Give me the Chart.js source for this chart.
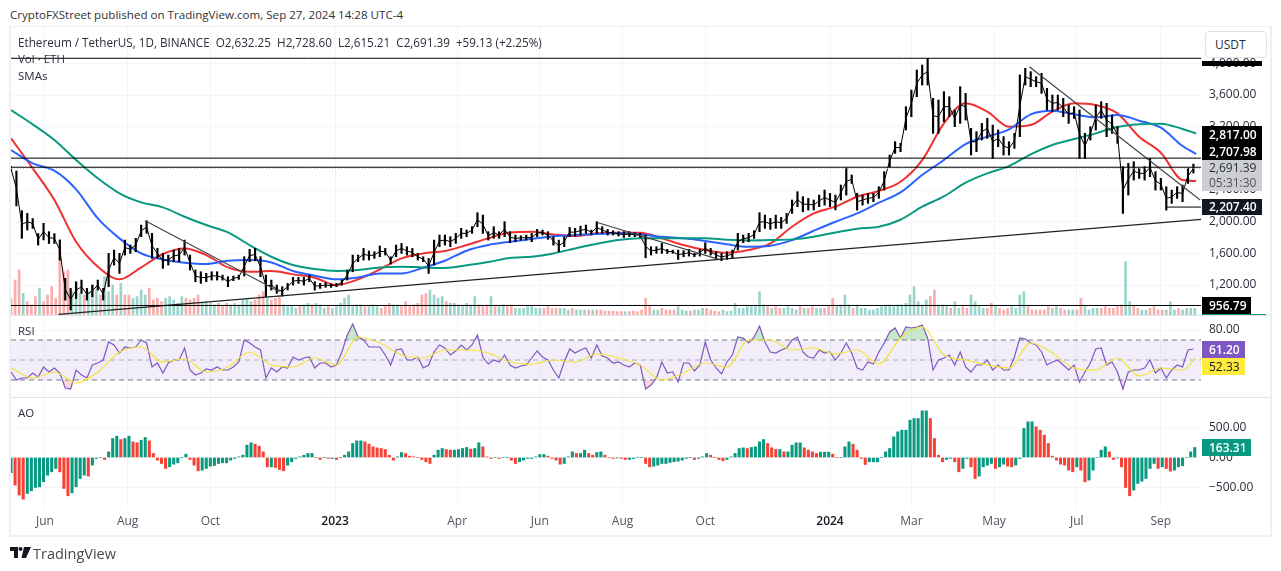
<!DOCTYPE html>
<html>
<head>
<meta charset="utf-8">
<script src="https://cdn.jsdelivr.net/npm/chart.js@4/dist/chart.umd.min.js"></script>
<style>
  html, body { margin: 0; padding: 0; background: #fff; }
  body { width: 1281px; height: 571px; overflow: hidden; position: relative; font-family: "Open Sans", sans-serif; color: #131722; }
  canvas { position: absolute; left: 11px; }
  .txt { position: absolute; white-space: pre; font-size: 11.5px; line-height: 14px; color: #2a2e39; }
  .tag { position: absolute; left: 1202px; height: 17px; line-height: 17px; font-size: 12px; font-weight: 600; color: #fff; padding-left: 7px; box-sizing: border-box; }
  .frame { position: absolute; background: #eef0f5; }
  .sep { position: absolute; left: 11px; width: 1259px; height: 1px; background: #e0e3eb; }
</style>
</head>
<body>
<div class="txt" style="left:10px;top:8px;font-size:11.6px;color:#333">CryptoFXStreet published on TradingView.com, Sep 27, 2024 14:28 UTC-4</div>

<canvas id="mainPane" width="1259" height="288" style="top:27px;width:1259px;height:288px"></canvas>
<canvas id="rsiPane" width="1259" height="81" style="top:316px;width:1259px;height:81px"></canvas>
<canvas id="aoPane" width="1259" height="138" style="top:398px;width:1259px;height:138px"></canvas>

<div class="frame" style="left:9px;top:26px;width:1263px;height:1px"></div>
<div class="frame" style="left:9px;top:26px;width:2px;height:511px"></div>
<div class="frame" style="left:1270px;top:26px;width:2px;height:511px"></div>
<div class="frame" style="left:9px;top:535px;width:1263px;height:2px"></div>
<div class="sep" style="top:315px"></div>
<div class="sep" style="top:397px"></div>
<div style="position:absolute;left:1202px;top:314px;width:64px;height:1px;background:#089981"></div>

<div class="txt" style="left:18px;top:35px;font-size:11.7px">Ethereum / TetherUS, 1D, BINANCE  O2,632.25  H2,728.60  L2,615.21  C2,691.39  +59.13 (+2.25%)</div>
<div class="txt" style="left:18px;top:52px">Vol · ETH</div>
<div class="txt" style="left:18px;top:69px">SMAs</div>
<div class="txt" style="left:18px;top:324px">RSI</div>
<div class="txt" style="left:18px;top:406px">AO</div>

<div style="position:absolute;left:1205px;top:31px;width:60px;height:25px;border:1px solid #e0e3eb;border-radius:4px;background:#fff;font-size:12px;line-height:25px;text-indent:9px;color:#2a2e39">USDT</div>

<div style="position:absolute;left:1202px;top:61px;width:60px;height:5px;background:#000"></div>
<div class="tag" style="top:126px;height:34px;width:60px;background:#000;line-height:17px">2,817.00<br>2,707.98</div>
<div style="position:absolute;left:1202px;top:160px;width:60px;height:31px;background:#ccced3"></div>
<div class="tag" style="color:#2a2e39;font-weight:400;top:159px">2,691.39</div>
<div class="tag" style="top:174px;color:#50535e;font-weight:400">05:31:30</div>
<div class="tag" style="top:199px;height:16px;line-height:16px;width:60px;background:#131722">2,207.40</div>
<div class="tag" style="top:297px;width:49px;background:#000">956.79</div>
<div class="tag" style="top:341px;width:43px;background:#7e57c2">61.20</div>
<div class="tag" style="top:358px;width:43px;background:#ffeb3b;color:#131722;font-weight:400">52.33</div>
<div class="tag" style="top:439px;width:49px;background:#089981">163.31</div>

<svg style="position:absolute;left:10px;top:547px" width="21" height="12" viewBox="0 0 21 12">
  <path d="M0 0H8V11H4V4H0Z M14 0H21L16 11H11.5Z" fill="#131722"/><circle cx="10.5" cy="2" r="2" fill="#131722"/>
</svg>
<div class="txt" style="left:33px;top:545px;font-size:14.5px;line-height:17px;color:#4a4a4a">TradingView</div>

<script>
// price samples, one every 4 days from 7 May 2022
const priceStep = 4;
const priceLow = [
  2640,2200,1790,1895,1915,1705,1770,1725,1725,1515,1010,885,1030,1095,1010,1053,1137,1010,1179,1453,
  1347,1579,1600,1621,1811,1853,1537,1537,1411,1453,1495,1495,1579,1390,1242,1221,1242,1263,1263,1263,
  1179,1255,1272,1314,1495,1507,1305,1053,1137,1095,1061,1137,1200,1221,1200,1242,1137,1158,1171,1171,
  1179,1200,1263,1368,1495,1516,1516,1537,1558,1579,1465,1558,1600,1579,1558,1516,1495,1347,1453,1684,
  1705,1684,1726,1790,1811,1853,1937,1853,1768,1790,1790,1811,1735,1747,1768,1768,1747,1811,1832,1777,
  1705,1621,1684,1811,1819,1832,1853,1832,1853,1853,1832,1832,1819,1802,1811,1811,1802,1545,1579,1600,
  1600,1600,1600,1524,1558,1566,1558,1566,1600,1579,1537,1508,1524,1537,1642,1735,1747,1790,1874,1916,
  1903,1916,1916,1979,2105,2190,2126,2147,2147,2190,2210,2190,2150,2274,2336,2484,2147,2210,2232,2253,
  2295,2400,2695,2863,2884,3158,3326,3579,3726,3726,3116,3116,3263,3326,3200,3242,3284,2842,2884,3032,
  3053,2800,2947,2842,2842,2926,3074,3726,3705,3705,3621,3411,3390,3411,3326,3242,3305,2800,2800,3032,
  3158,3305,3074,3116,2990,2105,2337,2526,2547,2526,2569,2400,2400,2147,2232,2295,2253,2484,2615
];
const priceHigh = [
  2700,2640,2140,2105,2040,1850,1980,1875,1850,1770,1285,1158,1240,1263,1158,1200,1263,1158,1600,1642,
  1600,1768,1705,1790,1958,2013,1853,1663,1600,1579,1642,1663,1768,1579,1390,1368,1348,1368,1368,1326,
  1305,1314,1326,1558,1651,1663,1558,1326,1263,1200,1179,1221,1297,1297,1297,1326,1242,1221,1230,1213,
  1221,1263,1390,1579,1579,1663,1630,1621,1693,1663,1558,1705,1726,1684,1663,1600,1558,1537,1768,1832,
  1832,1811,1853,1916,1895,1937,2114,2084,1874,1937,1874,2000,1874,1832,1823,1832,1853,1903,1895,1874,
  1811,1768,1811,1928,1916,1945,1958,1895,2000,1937,1903,1886,1874,1874,1874,1861,1853,1832,1684,1684,
  1726,1651,1642,1642,1634,1651,1600,1651,1735,1663,1621,1600,1621,1642,1853,1832,1853,1886,2114,2084,
  2042,2084,2055,2105,2274,2379,2316,2295,2274,2337,2400,2358,2336,2463,2680,2590,2358,2337,2358,2358,
  2442,2632,2842,3011,2990,3453,3663,3916,3979,4063,3558,3537,3642,3579,3410,3705,3621,3179,3137,3242,
  3305,3221,3158,3074,3011,3116,3853,3937,3895,3832,3874,3684,3600,3600,3558,3474,3453,3411,3116,3200,
  3474,3516,3495,3347,3200,2695,2737,2758,2674,2695,2800,2632,2547,2442,2400,2442,2463,2674,2728
];

// moving averages, one every 16 days plus the last bar
const smaDays = [
  0,16,32,48,64,80,96,112,128,144,160,176,192,208,224,240,256,272,288,304,320,336,352,368,384,400,416,432,
  448,464,480,496,512,528,544,560,576,592,608,624,640,656,672,688,704,720,736,752,768,784,800,816,832,848,864,874
];
const smaRed = [
  3053,2674,2274,1747,1432,1272,1423,1592,1663,1579,1423,1368,1377,1335,1293,1200,1272,1398,1537,1600,
  1630,1705,1790,1865,1874,1840,1819,1853,1861,1861,1790,1705,1642,1608,1642,1726,1937,2105,2190,2316,
  2388,2505,2779,3242,3495,3390,3200,3221,3390,3495,3474,3368,3074,2872,2526,2514
];
const smaBlue = [
  2905,2737,2644,2409,2042,1790,1600,1524,1482,1465,1507,1516,1486,1377,1318,1272,1297,1347,1347,1419,
  1507,1634,1705,1747,1781,1815,1832,1844,1853,1840,1811,1790,1756,1714,1684,1697,1768,1886,2000,2105,
  2240,2371,2590,2779,2981,3074,3166,3356,3402,3356,3318,3347,3276,3187,2956,2855
];
const smaGreen = [
  3411,3230,3032,2779,2548,2358,2244,2181,2063,1958,1865,1705,1558,1453,1402,1377,1390,1423,1432,1423,
  1415,1449,1491,1541,1558,1600,1663,1722,1768,1790,1790,1790,1790,1773,1764,1768,1777,1811,1865,1912,
  1937,2025,2190,2320,2493,2611,2703,2851,2969,3044,3116,3196,3230,3238,3171,3116
];

// volume in thousand ETH, one every 3 days
const volumeStep = 3;
const volumeValues = [
  500,1050,1350,650,400,300,550,800,400,600,850,500,2100,1300,1350,700,1000,650,600,700,
  900,750,600,1150,700,900,600,950,600,600,500,550,750,600,800,450,500,400,500,550,
  450,350,550,500,450,500,600,350,400,350,300,350,250,350,300,350,300,450,500,400,
  450,600,700,500,450,500,550,300,250,250,200,250,300,350,300,350,300,200,250,200,
  250,350,500,600,250,300,300,250,250,300,250,200,250,350,300,300,250,400,250,300,
  350,600,650,750,600,500,550,400,350,350,300,250,350,300,550,300,250,300,550,250,
  250,300,250,300,200,200,200,250,250,200,200,200,250,200,200,200,200,150,200,150,
  150,150,150,150,150,150,120,120,120,100,100,100,100,120,100,150,500,250,150,150,
  200,150,150,150,250,150,120,120,150,150,200,200,150,120,100,150,100,120,350,200,
  200,250,250,250,700,300,250,200,250,200,200,250,200,150,250,200,200,250,200,200,
  200,250,500,250,300,600,300,200,300,200,200,150,150,200,250,300,300,250,300,300,
  350,600,850,400,300,450,550,750,300,300,250,200,400,200,250,200,600,400,250,200,
  200,350,250,200,150,200,250,200,600,700,250,150,150,150,150,250,200,250,200,150,
  150,150,150,500,250,150,200,200,200,250,200,200,250,300,1600,400,250,200,150,150,
  200,250,150,150,150,400,150,200,150,200,200,200
];

const rsiValues = [
  38,30,32,32,37,33,43,38,42,37,22,21,40,35,32,45,47,50,68,65,57,63,62,63,70,67,43,47,37,47,
  50,50,62,40,35,37,41,40,43,40,40,43,48,70,67,63,60,32,42,38,43,42,53,50,52,53,42,47,47,43,
  45,58,75,86,73,70,63,63,63,55,45,60,61,50,50,53,42,45,58,65,62,55,59,65,60,65,75,53,46,50,
  48,55,45,42,44,45,52,59,53,50,40,32,48,61,57,60,62,52,65,54,52,47,48,45,43,47,45,21,25,32,
  48,37,38,28,47,47,39,45,68,50,42,36,48,55,73,72,67,73,84,68,58,57,60,62,70,73,58,53,52,60,
  57,58,50,57,67,57,42,40,48,46,58,67,78,82,72,83,82,83,85,72,40,50,52,55,45,58,43,38,45,45,
  50,40,45,40,40,53,72,71,67,65,58,45,48,50,45,40,45,28,38,47,61,62,45,48,38,21,38,40,40,42,
  50,37,42,32,40,45,43,60,61
];
const rsiMa = [
  42,32,38,27,38,58,63,48,51,38,43,58,45,43,52,45,73,67,55,52,
  60,60,57,48,46,50,48,56,52,45,30,37,47,43,70,70,60,62,56,60,
  46,72,83,55,50,45,42,67,57,42,40,52,34,42,40,52
];

// awesome oscillator, one every 3 days
const aoStep = 3;
const aoValues = [
  -250,-455,-620,-686,-593,-549,-494,-483,-400,-291,-236,-181,-236,-510,-631,-582,-483,-346,-291,-307,
  -126,-16,0,-33,93,313,351,296,313,351,258,242,285,329,274,66,-44,-99,-181,-154,
  -110,-88,0,55,-33,-126,-220,-209,-181,-143,-132,-99,-88,-88,-44,-16,11,38,203,242,
  220,187,93,-154,-154,-165,-198,-220,-126,-71,-16,11,38,66,66,0,-33,0,-16,-16,
  -33,0,38,93,231,274,274,258,220,176,159,148,132,38,-44,11,82,66,22,11,
  0,-33,-71,-99,38,121,148,132,121,121,132,148,165,137,148,242,176,11,-16,0,
  -16,0,0,-44,-99,-71,-44,-16,-16,11,49,49,22,-16,-44,-110,-99,11,93,66,
  66,121,66,38,82,93,38,0,-16,-5,-16,-33,-33,-16,0,0,-99,-154,-143,-126,
  -99,-99,-82,-71,-60,-44,-16,0,-33,-16,11,66,38,0,-33,-55,-33,11,66,148,
  159,148,165,176,258,296,231,159,132,132,93,93,203,242,242,159,121,93,66,88,
  88,88,55,0,0,176,258,220,121,-16,-115,-71,-71,-71,0,93,148,340,423,450,
  450,615,642,642,769,769,642,313,38,-71,-33,-16,-71,-236,-181,-16,-154,-346,-307,-154,
  -126,-99,-181,-154,-110,-143,-154,-126,-16,478,587,587,505,450,368,231,22,-44,-110,-126,
  -209,-236,-154,-209,-401,-373,-209,0,121,176,93,-33,-5,-154,-494,-631,-538,-428,-390,-346,
  -181,-99,-181,-154,-181,-225,-209,-154,-137,0,93,165
];

// levels and drawn lines, in day / price
const topLevel = 4064;
const upperLevel = 2803;
const midLevel = 2688;
const lastClose = 2675;
const swingLow = 2185;
const floorLevel = 942;
const riseLine = [{ x: 35, y: 830 }, { x: 877.6, y: 2030 }];
const fallLines = [
  [{ x: 99, y: 2013 }, { x: 198, y: 1116 }],
  [{ x: 433, y: 1987 }, { x: 522, y: 1524 }],
  [{ x: 751, y: 3958 }, { x: 877, y: 2274 }]
];

const tickDays = [25, 86, 147, 239, 329, 390, 451, 512, 604, 664, 725, 786, 848];
const tickLabels = ['Jun', 'Aug', 'Oct', '2023', 'Apr', 'Jun', 'Aug', 'Oct', '2024', 'Mar', 'May', 'Jul', 'Sep'];
const priceTicks = [1200, 1600, 2000, 2400, 2800, 3200, 3600, 4000];
const rsiTicks = [80];
const aoTicks = [-500, 0, 500];

const lastDay = 877.6;
const gridColor = '#f4f5f9';
const textFont = { family: '"Open Sans", sans-serif', size: 12 };

const priceMid = priceLow.map((lo, i) => (lo + priceHigh[i]) / 2);

function levelLine(value, color, fromDay, dash) {
  return {
    type: 'line', order: 1, borderColor: color, borderWidth: 1, borderDash: dash || [], pointRadius: 0,
    data: [{ x: fromDay || 0, y: value }, { x: lastDay, y: value }]
  };
}

function smaLine(values, color) {
  return {
    type: 'line', order: 4, borderColor: color, borderWidth: 2, pointRadius: 0, cubicInterpolationMode: 'monotone',
    data: values.map((v, i) => ({ x: smaDays[i], y: v }))
  };
}

function trendLine(points, color) {
  return { type: 'line', order: 1, borderColor: color, borderWidth: 1.2, pointRadius: 0, data: points };
}

// the panes butt against each other, so no scale may keep label margins
function dropMargins(axis) {
  axis.paddingTop = 0;
  axis.paddingBottom = 0;
  axis.paddingLeft = 0;
  axis.paddingRight = 0;
}

function xAxis(showLabels) {
  return {
    type: 'linear', min: 0, max: lastDay, offset: false,
    grid: { color: gridColor, drawTicks: false, offset: false },
    border: { display: false },
    afterBuildTicks: axis => { axis.ticks = tickDays.map(value => ({ value })); },
    afterFit: axis => { axis.height = showLabels ? 28 : 0; dropMargins(axis); },
    ticks: {
      display: showLabels, autoSkip: false, maxRotation: 0, padding: 6,
      callback: (value, i) => tickLabels[i],
      color: ctx => (/^\d/.test(tickLabels[ctx.index]) ? '#131722' : '#50535e'),
      font: ctx => ({ ...textFont, weight: /^\d/.test(tickLabels[ctx.index]) ? '600' : '400' })
    }
  };
}

function yAxis(min, max, ticks) {
  return {
    position: 'right', min, max,
    grid: { color: gridColor, drawTicks: false },
    border: { display: false },
    afterBuildTicks: axis => { axis.ticks = ticks.map(value => ({ value })); },
    afterFit: axis => { axis.width = 69; dropMargins(axis); },
    ticks: {
      padding: 8, color: '#2a2e39', font: textFont,
      callback: v => (v < 0 ? '\u2212' : '') + Math.abs(v).toLocaleString('en-US', { minimumFractionDigits: 2, maximumFractionDigits: 2 })
    }
  };
}

const baseOptions = {
  responsive: false, animation: false, devicePixelRatio: 1,
  layout: { padding: 0 },
  plugins: { legend: { display: false }, tooltip: { enabled: false } }
};

// price pane
new Chart(document.getElementById('mainPane'), {
  data: {
    datasets: [
      {
        type: 'bar', order: 10, yAxisID: 'yVol', grouped: false, barThickness: 2,
        data: volumeValues.map((v, i) => ({ x: i * volumeStep, y: v })),
        backgroundColor: volumeValues.map((v, i) => {
          const k = Math.floor(i * volumeStep / priceStep);
          return priceMid[Math.min(k + 1, priceMid.length - 1)] >= priceMid[k] ? '#9ad5cb' : '#f7aeac';
        })
      },
      smaLine(smaGreen, '#089981'),
      smaLine(smaBlue, '#2962ff'),
      smaLine(smaRed, '#f23030'),
      {
        type: 'bar', order: 2, grouped: false, barThickness: 1.5, backgroundColor: '#000',
        data: priceLow.map((lo, i) => ({ x: i * priceStep, y: [lo, priceHigh[i]] }))
      },
      {
        type: 'line', order: 3, borderColor: '#000', borderWidth: 1, pointRadius: 0,
        data: priceMid.map((v, i) => ({ x: i * priceStep, y: v }))
      },
      levelLine(topLevel, '#000'),
      levelLine(upperLevel, '#000'),
      levelLine(midLevel, '#000'),
      levelLine(lastClose, '#b2b5be', 0, [1, 2]),
      levelLine(floorLevel, '#000'),
      levelLine(swingLow, '#000', 852),
      trendLine(riseLine, '#222'),
      ...fallLines.map(line => trendLine(line, '#444'))
    ]
  },
  options: {
    ...baseOptions,
    scales: {
      x: xAxis(false),
      y: yAxis(822, 4459, priceTicks),
      yVol: { display: false, min: 0, max: 8640 }
    }
  }
});

// RSI pane
new Chart(document.getElementById('rsiPane'), {
  type: 'line',
  data: {
    datasets: [
      {
        order: 1, borderColor: '#f5e33a', borderWidth: 1.2, pointRadius: 0, cubicInterpolationMode: 'monotone',
        data: rsiMa.map((v, i) => ({ x: smaDays[i], y: v }))
      },
      {
        order: 2, borderColor: '#7e57c2', borderWidth: 1.2, pointRadius: 0,
        fill: { target: { value: 70 }, above: 'rgba(76,175,80,0.3)', below: 'rgba(0,0,0,0)' },
        data: rsiValues.map((v, i) => ({ x: i * priceStep, y: v }))
      },
      {
        order: 3, borderWidth: 0, pointRadius: 0,
        fill: { target: { value: 30 }, above: 'rgba(0,0,0,0)', below: 'rgba(242,54,69,0.2)' },
        data: rsiValues.map((v, i) => ({ x: i * priceStep, y: v }))
      },
      {
        order: 4, borderColor: '#787b86', borderWidth: 1, borderDash: [5, 4], pointRadius: 0,
        fill: { target: { value: 30 }, above: 'rgba(126,87,194,0.1)' },
        data: [{ x: 0, y: 70 }, { x: lastDay, y: 70 }]
      },
      {
        order: 4, borderColor: '#787b86', borderWidth: 1, borderDash: [5, 4], pointRadius: 0,
        data: [{ x: 0, y: 30 }, { x: lastDay, y: 30 }]
      },
      {
        order: 4, borderColor: '#b2b5be', borderWidth: 1, borderDash: [5, 4], pointRadius: 0,
        data: [{ x: 0, y: 50 }, { x: lastDay, y: 50 }]
      }
    ]
  },
  options: {
    ...baseOptions,
    scales: { x: xAxis(false), y: yAxis(13, 94, rsiTicks) }
  }
});

// AO pane
new Chart(document.getElementById('aoPane'), {
  type: 'bar',
  data: {
    datasets: [{
      grouped: false, barThickness: 2.4,
      data: aoValues.map((v, i) => ({ x: i * aoStep, y: v })),
      // rising bars are green, falling bars are red
      backgroundColor: aoValues.map((v, i) => (i === 0 || v >= aoValues[i - 1] ? '#089981' : '#f44336'))
    }]
  },
  options: {
    ...baseOptions,
    scales: { x: xAxis(true), y: yAxis(-832, 980, aoTicks) }
  }
});
</script>
</body>
</html>
